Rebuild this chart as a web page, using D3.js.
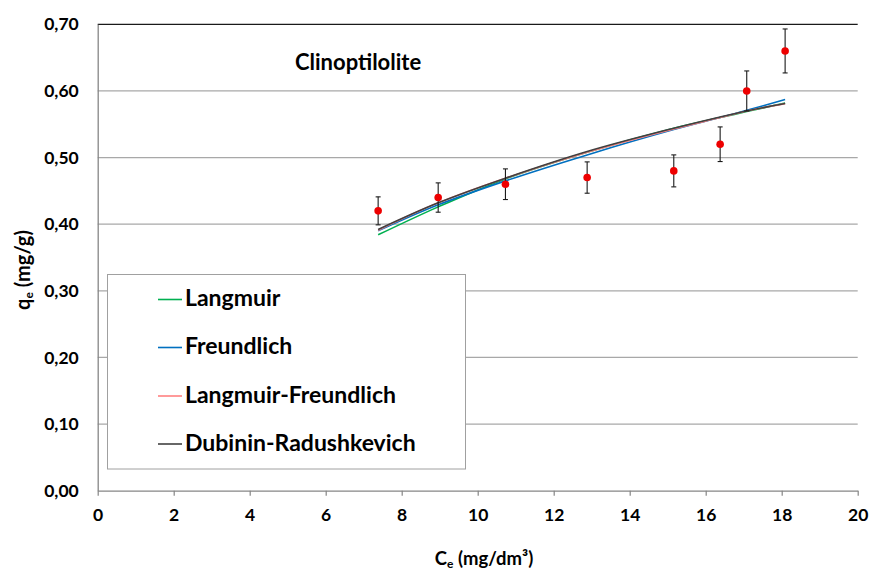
<!DOCTYPE html>
<html>
<head>
<meta charset="utf-8">
<script src="https://cdn.jsdelivr.net/npm/d3@7/dist/d3.min.js"></script>
<style>
  html, body { margin: 0; padding: 0; background: #fff; }
  svg { display: block; }
  text { font-family: Lato, "Open Sans", sans-serif; font-weight: bold; fill: #000; }
</style>
</head>
<body>
<svg id="chart" width="869" height="572"></svg>
<script>
// Equilibrium concentration Ce (mg/dm3) and measured uptake qe (mg/g)
const ce = [7.38, 8.96, 10.73, 12.88, 15.16, 16.38, 17.08, 18.09];
const qe = [0.42, 0.44, 0.46, 0.47, 0.48, 0.52, 0.60, 0.66];
const qeErr = [0.021, 0.022, 0.023, 0.0235, 0.024, 0.026, 0.030, 0.033];

// Model fits evaluated at each Ce
const langmuir = [0.384, 0.426, 0.468, 0.508, 0.544, 0.560, 0.569, 0.582];
const freundlich = [0.390, 0.429, 0.465, 0.504, 0.542, 0.560, 0.571, 0.587];
const langmuirFreundlich = [0.391, 0.432, 0.469, 0.508, 0.543, 0.560, 0.570, 0.581];
const dubininRadushkevich = [0.392, 0.432, 0.469, 0.509, 0.544, 0.561, 0.570, 0.581];

const modelNames = ["Langmuir", "Freundlich", "Langmuir-Freundlich", "Dubinin-Radushkevich"];
const modelColors = ["#00b050", "#0070c0", "#ff8080", "#404040"];
const modelValues = [langmuir, freundlich, langmuirFreundlich, dubininRadushkevich];

const xTicks = [0, 2, 4, 6, 8, 10, 12, 14, 16, 18, 20];
const yTicks = [0, 0.1, 0.2, 0.3, 0.4, 0.5, 0.6, 0.7];

const svg = d3.select("#chart");
const x = d3.scaleLinear().domain([0, 20]).range([97.7, 857.7]);
const y = d3.scaleLinear().domain([0, 0.7]).range([490.7, 24.3]);
const fmt = v => d3.format(".2f")(v).replace(".", ",");

// gridlines
svg.append("g").selectAll("line").data(yTicks.filter(v => v > 0)).join("line")
  .attr("x1", x(0)).attr("x2", x(20))
  .attr("y1", d => y(d)).attr("y2", d => y(d))
  .attr("stroke", d => d === 0.7 ? "#1a1a1a" : "#a8a8a8")
  .attr("stroke-width", 1.2);

// y axis
const yAxis = svg.append("g").attr("transform", `translate(${x(0)},0)`)
  .call(d3.axisLeft(y).tickValues(yTicks).tickFormat(fmt).tickSize(0).tickPadding(19));
yAxis.select(".domain").attr("stroke", "#868686").attr("stroke-width", 1.3);
yAxis.selectAll("text").attr("font-size", 17.5).attr("font-family", "Lato, sans-serif").attr("font-weight", "bold").attr("fill", "#000");

// x axis
const xAxis = svg.append("g").attr("transform", `translate(0,${y(0)})`)
  .call(d3.axisBottom(x).tickValues(xTicks).tickFormat(d3.format("d")).tickSize(5).tickSizeOuter(0).tickPadding(13));
xAxis.select(".domain").attr("stroke", "#868686").attr("stroke-width", 1.3);
xAxis.selectAll(".tick line").attr("stroke", "#868686").attr("stroke-width", 1.2);
xAxis.selectAll("text").attr("font-size", 17.5).attr("font-family", "Lato, sans-serif").attr("font-weight", "bold").attr("fill", "#000");

// fitted curves
const line = d3.line().x((d, i) => x(ce[i])).y(d => y(d)).curve(d3.curveCatmullRom.alpha(0.5));
svg.append("g").selectAll("path").data(modelValues).join("path")
  .attr("d", line)
  .attr("fill", "none")
  .attr("stroke", (d, i) => modelColors[i])
  .attr("stroke-width", 1.6);

// error bars
const eb = svg.append("g").attr("stroke", "#1a1a1a").attr("stroke-width", 1.1);
ce.forEach((c, i) => {
  const cx = x(c), top = y(qe[i] + qeErr[i]), bot = y(qe[i] - qeErr[i]);
  eb.append("line").attr("x1", cx).attr("x2", cx).attr("y1", top).attr("y2", bot);
  eb.append("line").attr("x1", cx - 2.5).attr("x2", cx + 2.5).attr("y1", top).attr("y2", top);
  eb.append("line").attr("x1", cx - 2.5).attr("x2", cx + 2.5).attr("y1", bot).attr("y2", bot);
});

// measured points
svg.append("g").selectAll("circle").data(qe).join("circle")
  .attr("cx", (d, i) => x(ce[i])).attr("cy", d => y(d)).attr("r", 3.8)
  .attr("fill", "#ee0000");

// title
svg.append("text").attr("x", 295).attr("y", 70).attr("font-size", 22).text("Clinoptilolite");

// legend
const lg = svg.append("g");
lg.append("rect").attr("x", 107.5).attr("y", 274.5).attr("width", 358).attr("height", 194.5)
  .attr("fill", "#fff").attr("stroke", "#a0a0a0").attr("stroke-width", 1);
const rowY = [299.5, 347.5, 396, 444];
modelNames.forEach((name, i) => {
  lg.append("line").attr("x1", 158).attr("x2", 182).attr("y1", rowY[i]).attr("y2", rowY[i])
    .attr("stroke", modelColors[i]).attr("stroke-width", 1.6);
  lg.append("text").attr("x", 185).attr("y", rowY[i] + 6.5).attr("font-size", 23).text(name);
});

// axis titles
const yt = svg.append("text").attr("transform", "translate(30,270) rotate(-90)")
  .attr("text-anchor", "middle").attr("font-size", 20);
yt.append("tspan").text("q");
yt.append("tspan").attr("font-size", 12).attr("dy", 3).text("e");
yt.append("tspan").attr("dy", -3).text(" (mg/g)");

const xt = svg.append("text").attr("x", 484).attr("y", 565)
  .attr("text-anchor", "middle").attr("font-size", 18.5);
xt.append("tspan").text("C");
xt.append("tspan").attr("font-size", 12).attr("dy", 3).text("e");
xt.append("tspan").attr("dy", -3).text(" (mg/dm³)");
</script>
</body>
</html>
